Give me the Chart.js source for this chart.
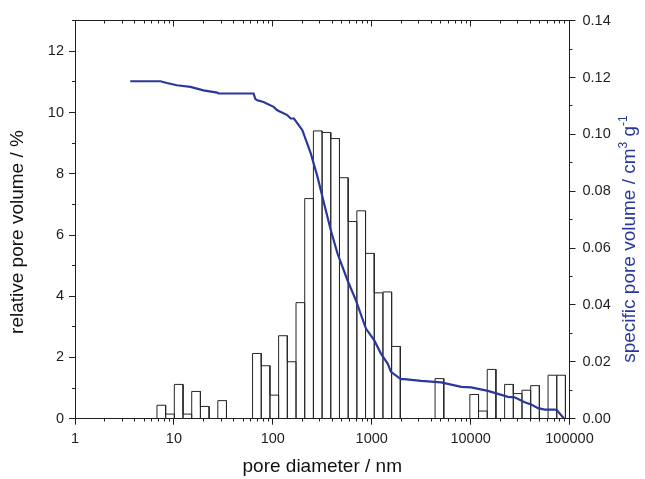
<!DOCTYPE html>
<html>
<head>
<meta charset="utf-8">
<script src="https://cdn.jsdelivr.net/npm/chart.js@4/dist/chart.umd.min.js"></script>
<style>
html, body { margin: 0; padding: 0; background: #ffffff; }
#wrap { width: 645px; height: 479px; }
</style>
</head>
<body>
<div id="wrap"><canvas id="c" width="645" height="479"></canvas></div>
<script>
// ---- data ----
// histogram bins (pore diameter, nm) and relative pore volume (%)
const binStart = [6.74, 8.25, 10.10, 12.37, 15.14, 18.54, 27.79, 62.42, 76.41, 93.56, 114.5, 140.2, 171.7, 210.2, 257.3, 315.0, 385.7, 472.2, 578.1, 707.8, 866.5, 1061, 1299, 1590, 4373, 9824, 12030, 14730, 22080, 27030, 33090, 40510, 60720, 74330];
const binEnd = [8.25, 10.10, 12.37, 15.14, 18.54, 22.70, 34.01, 76.41, 93.56, 114.5, 140.2, 171.7, 210.2, 257.3, 315.0, 385.7, 472.2, 578.1, 707.8, 866.5, 1061, 1299, 1590, 1947, 5355, 12030, 14730, 18030, 27030, 33090, 40510, 49600, 74330, 91000];
const relPoreVolume = [0.44, 0.15, 1.12, 0.15, 0.89, 0.40, 0.59, 2.13, 1.73, 0.77, 2.71, 1.86, 3.79, 7.19, 9.40, 9.35, 9.15, 7.87, 6.44, 6.79, 5.40, 4.11, 4.14, 2.36, 1.31, 0.79, 0.25, 1.61, 1.12, 0.82, 0.93, 1.08, 1.42, 1.42];

// cumulative curve: pore diameter (nm) and specific pore volume (cm3/g)
const lineDiameter = [3.62, 7.3, 8.5, 10.7, 14.7, 19.9, 27.4, 28.2, 63.9, 66.5, 69.6, 80.6, 101.9, 111, 140, 151.6, 163.7, 199, 242, 283, 330, 386, 451, 569, 691, 874, 1062, 1239, 1450, 1566, 1832, 1977, 2139, 3155, 5035, 8040, 10150, 14970, 18200, 23900, 27880, 35200, 41000, 48100, 56200, 71000, 74000, 88300];
const specPoreVolume = [0.1187, 0.1187, 0.1181, 0.1173, 0.1167, 0.1155, 0.1147, 0.1144, 0.1144, 0.1125, 0.1120, 0.1114, 0.1097, 0.1085, 0.1068, 0.1056, 0.1056, 0.1015, 0.0933, 0.0851, 0.0757, 0.0663, 0.0581, 0.0487, 0.0417, 0.0317, 0.0276, 0.0229, 0.0194, 0.0165, 0.0147, 0.0139, 0.0139, 0.0133, 0.0128, 0.0112, 0.0110, 0.0098, 0.0089, 0.0077, 0.0075, 0.0058, 0.0050, 0.0037, 0.0032, 0.0032, 0.0031, 0.0];

// tick labels
const xTickValues = [1, 10, 100, 1000, 10000, 100000];
const xTickLabels = ['1', '10', '100', '1000', '10000', '100000'];
const leftTickValues = [0, 2, 4, 6, 8, 10, 12];
const rightTickValues = [0, 0.02, 0.04, 0.06, 0.08, 0.10, 0.12, 0.14];

const xTitle = 'pore diameter / nm';
const leftTitle = 'relative pore volume / %';
const rightTitleParts = ['specific pore volume / cm', '3', ' g', '-1'];

// ---- build library data from the arrays ----
const histPoints = [];
for (let i = 0; i < relPoreVolume.length; i++) {
  if (i === 0 || binStart[i] !== binEnd[i - 1]) histPoints.push({x: binStart[i], y: 0});
  histPoints.push({x: binStart[i], y: relPoreVolume[i]});
  histPoints.push({x: binEnd[i], y: relPoreVolume[i]});
  histPoints.push({x: binEnd[i], y: 0});
}
const linePoints = lineDiameter.map((d, i) => ({x: d, y: specPoreVolume[i]}));

// ---- styles ----
const FONT = '"Liberation Sans", Arial, Helvetica, sans-serif';
const BLUE = '#2b379b';
const INK = '#1e1e1e';
const AREA = {left: 75, right: 569.5, top: 20.7, bottom: 418.7};

// minor tick positions for the decorations (axis styling only)
const minorX = [];
for (let e = 0; e < 5; e++) for (let m = 2; m <= 9; m++) minorX.push(m * Math.pow(10, e));

function vTitle(ctx, parts, baseX, centerY, color) {
  ctx.save();
  ctx.translate(baseX, centerY);
  ctx.rotate(-Math.PI / 2);
  ctx.fillStyle = color;
  ctx.textAlign = 'left';
  ctx.textBaseline = 'alphabetic';
  let total = 0;
  parts.forEach(p => { ctx.font = p.font; p.w = ctx.measureText(p.text).width; total += p.w; });
  let x = -total / 2;
  parts.forEach(p => { ctx.font = p.font; ctx.fillText(p.text, x, p.dy || 0); x += p.w; });
  ctx.restore();
}

const decorations = {
  id: 'decorations',
  afterDraw(chart) {
    const {ctx, chartArea: a} = chart;
    const sx = chart.scales.x, sy = chart.scales.y, sy2 = chart.scales.y2;
    const al = v => Math.round(v - 0.5) + 0.5;
    ctx.save();
    ctx.strokeStyle = INK;
    ctx.lineWidth = 1;
    const seg = (x1, y1, x2, y2) => { ctx.beginPath(); ctx.moveTo(x1, y1); ctx.lineTo(x2, y2); ctx.stroke(); };
    const top = al(a.top), bottom = al(a.bottom);
    // top frame line with inward ticks
    seg(a.left, top, a.right + 0.5, top);
    xTickValues.forEach(v => { const X = al(sx.getPixelForValue(v)); seg(X, top, X, top + 6); });
    minorX.forEach(v => { const X = al(sx.getPixelForValue(v)); seg(X, top, X, top + 3); });
    // bottom minor ticks (outward)
    minorX.forEach(v => { const X = al(sx.getPixelForValue(v)); seg(X, bottom, X, bottom + 3); });
    // left minor ticks
    for (let v = 1; v <= 13; v += 2) { const Y = al(sy.getPixelForValue(v)); seg(a.left - 3, Y, a.left, Y); }
    // right minor ticks
    for (let k = 1; k <= 13; k += 2) { const Y = al(sy2.getPixelForValue(k / 100)); seg(a.right, Y, a.right + 3, Y); }
    ctx.restore();

    // vertical axis titles
    vTitle(ctx, [{text: leftTitle, font: '19px ' + FONT}], 22.5, 232, '#111');
    vTitle(ctx, [
      {text: rightTitleParts[0], font: '19px ' + FONT},
      {text: rightTitleParts[1], font: '12px ' + FONT, dy: -8},
      {text: rightTitleParts[2], font: '19px ' + FONT},
      {text: rightTitleParts[3], font: '12px ' + FONT, dy: -8}
    ], 634.5, 239, BLUE);
  }
};

const commonGrid = {display: true, drawOnChartArea: false, drawTicks: true, tickLength: 6, tickColor: INK, tickWidth: 1};
const commonBorder = {display: true, color: INK, width: 1};
const tickFont = {family: FONT, size: 14.5};

new Chart(document.getElementById('c'), {
  type: 'scatter',
  data: {
    datasets: [
      {
        label: 'specific pore volume',
        data: linePoints,
        yAxisID: 'y2',
        showLine: true,
        borderColor: BLUE,
        borderWidth: 2.2,
        pointRadius: 0,
        tension: 0,
        order: 0
      },
      {
        label: 'relative pore volume',
        data: histPoints,
        yAxisID: 'y',
        showLine: true,
        borderColor: '#262626',
        borderWidth: 1,
        pointRadius: 0,
        tension: 0,
        order: 1
      }
    ]
  },
  options: {
    responsive: false,
    devicePixelRatio: 1,
    animation: false,
    layout: {padding: {top: AREA.top, left: 0, right: 0, bottom: 0}},
    plugins: {legend: {display: false}, tooltip: {enabled: false}},
    scales: {
      x: {
        type: 'logarithmic',
        position: 'bottom',
        min: 1,
        max: 100000,
        afterBuildTicks: s => { s.ticks = xTickValues.map(v => ({value: v})); },
        afterFit: s => { s.height = 479 - AREA.bottom; },
        ticks: {autoSkip: false, maxRotation: 0, minRotation: 0, padding: 6, color: INK, font: tickFont,
                callback: (v, i) => xTickLabels[i]},
        grid: commonGrid,
        border: commonBorder,
        title: {display: true, text: xTitle, color: '#111', font: {family: FONT, size: 19}, padding: {top: 0, bottom: 1}}
      },
      y: {
        type: 'linear',
        position: 'left',
        min: 0,
        max: 13,
        afterBuildTicks: s => { s.ticks = leftTickValues.map(v => ({value: v})); },
        afterFit: s => { s.width = AREA.left; },
        ticks: {padding: 5, color: INK, font: tickFont, callback: v => String(v)},
        grid: commonGrid,
        border: commonBorder
      },
      y2: {
        type: 'linear',
        position: 'right',
        min: 0,
        max: 0.14,
        afterBuildTicks: s => { s.ticks = rightTickValues.map(v => ({value: v})); },
        afterFit: s => { s.width = 645 - AREA.right; },
        ticks: {padding: 7, color: INK, font: tickFont, callback: v => Number(v).toFixed(2)},
        grid: commonGrid,
        border: commonBorder
      }
    }
  },
  plugins: [decorations]
});
</script>
</body>
</html>
